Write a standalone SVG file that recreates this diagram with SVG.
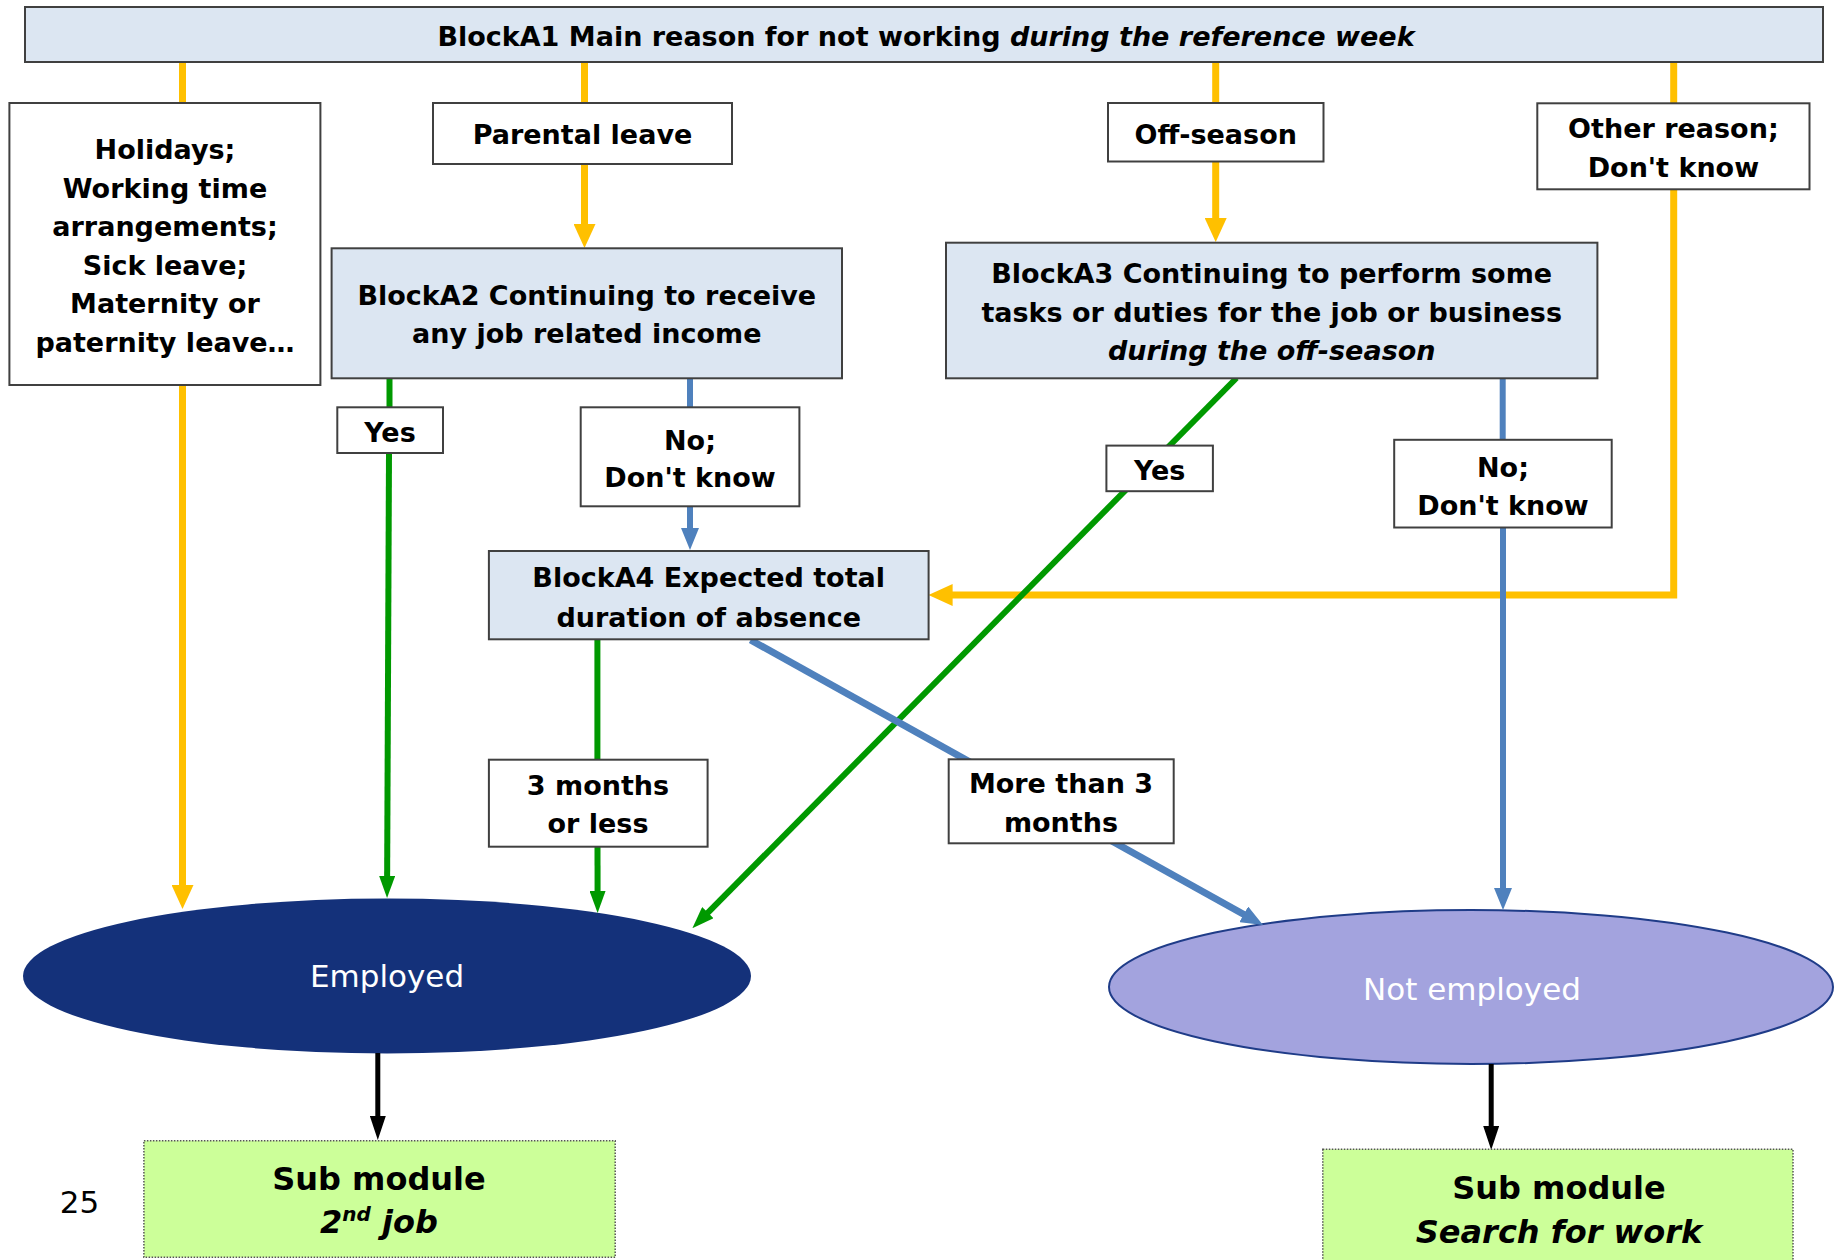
<svg xmlns="http://www.w3.org/2000/svg" width="1834" height="1260" viewBox="0 0 1834 1260">
<defs>
<style>
.box{fill:#ffffff;stroke:#404040;stroke-width:2}
.blk{fill:#dce6f2;stroke:#404040;stroke-width:2}
.sub{fill:#ccff99;stroke:#555555;stroke-width:1.5;stroke-dasharray:1.5 1.5}
.t{font-family:"DejaVu Sans",Verdana,sans-serif;font-weight:bold;font-size:27px;fill:#000000;text-anchor:middle}
.s{font-family:"DejaVu Sans",Verdana,sans-serif;font-weight:bold;font-size:32px;fill:#000000;text-anchor:middle}
.e{font-family:"DejaVu Sans",Verdana,sans-serif;font-size:31px;fill:#ffffff;text-anchor:middle}
.y{fill:none;stroke:#ffc000;stroke-width:7}
.g{fill:none;stroke:#009900;stroke-width:6}
.b{fill:none;stroke:#4f81bd;stroke-width:6}
.b2{fill:none;stroke:#4f81bd;stroke-width:7}
.k{fill:none;stroke:#000000;stroke-width:5}
</style>
<marker id="ay" markerUnits="userSpaceOnUse" markerWidth="24" markerHeight="22" refX="10" refY="11" orient="auto"><path d="M0,0 L24,11 L0,22 z" fill="#ffc000"/></marker>
<marker id="ag" markerUnits="userSpaceOnUse" markerWidth="22" markerHeight="16" refX="10" refY="8" orient="auto"><path d="M0,0 L22,8 L0,16 z" fill="#009900"/></marker>
<marker id="ab" markerUnits="userSpaceOnUse" markerWidth="22" markerHeight="18" refX="10" refY="9" orient="auto"><path d="M0,0 L22,9 L0,18 z" fill="#4f81bd"/></marker>
<marker id="ak" markerUnits="userSpaceOnUse" markerWidth="24" markerHeight="16" refX="10" refY="8" orient="auto"><path d="M0,0 L24,8 L0,16 z" fill="#000000"/></marker>
</defs>
<rect width="1834" height="1260" fill="#ffffff"/>

<g id="employed">
<ellipse cx="387" cy="976" rx="364" ry="77.5" fill="#14317a"/>
<text class="e" x="387" y="987">Employed</text>
</g>
<g id="not-employed">
<ellipse cx="1471" cy="987" rx="362" ry="77" fill="#a3a3de" stroke="#1f3c88" stroke-width="2"/>
<text class="e" x="1472" y="1000">Not employed</text>
</g>

<g id="connectors">
<line class="y" x1="182.5" y1="62" x2="182.5" y2="104"/>
<line class="y" x1="182.5" y1="385" x2="182.5" y2="895" marker-end="url(#ay)"/>
<line class="y" x1="584.5" y1="62" x2="584.5" y2="104"/>
<line class="y" x1="584.5" y1="164" x2="584.5" y2="234" marker-end="url(#ay)"/>
<line class="y" x1="1215.7" y1="62" x2="1215.7" y2="104"/>
<line class="y" x1="1215.7" y1="161" x2="1215.7" y2="228" marker-end="url(#ay)"/>
<line class="y" x1="1673.7" y1="62" x2="1673.7" y2="104"/>
<polyline class="y" points="1673.7,189 1673.7,595 942.6,595" marker-end="url(#ay)"/>

<line class="g" x1="389.5" y1="378" x2="389.5" y2="408"/>
<line class="g" x1="389" y1="453" x2="387.1" y2="886" marker-end="url(#ag)"/>
<line class="g" x1="597.4" y1="639" x2="597.4" y2="760"/>
<line class="g" x1="597.5" y1="847" x2="597.6" y2="901" marker-end="url(#ag)"/>
<line class="g" x1="1236.5" y1="378" x2="700.8" y2="919.8" marker-end="url(#ag)"/>

<line class="b" x1="690" y1="378" x2="690" y2="408"/>
<line class="b" x1="690" y1="506" x2="690" y2="538" marker-end="url(#ab)"/>
<line class="b2" x1="750.6" y1="640" x2="1252.5" y2="919.2" marker-end="url(#ab)"/>
<line class="b" x1="1502.7" y1="371" x2="1502.7" y2="441"/>
<line class="b" x1="1503" y1="527" x2="1503" y2="898" marker-end="url(#ab)"/>

<line class="k" x1="377.8" y1="1053" x2="377.8" y2="1126" marker-end="url(#ak)"/>
<line class="k" x1="1491.2" y1="1064" x2="1491.2" y2="1136" marker-end="url(#ak)"/>
</g>

<g id="blockA1">
<rect class="blk" x="25" y="7" width="1798" height="55"/>
<text class="t" x="926" y="46">BlockA1 Main reason for not working <tspan font-style="italic">during the reference week</tspan></text>
</g>
<g id="holidays">
<rect class="box" x="9.4" y="103" width="311" height="282"/>
<text class="t" x="165" y="159">Holidays;</text>
<text class="t" x="165" y="198">Working time</text>
<text class="t" x="165" y="236">arrangements;</text>
<text class="t" x="165" y="275">Sick leave;</text>
<text class="t" x="165" y="313">Maternity or</text>
<text class="t" x="165" y="352">paternity leave…</text>
</g>
<g id="parental">
<rect class="box" x="433" y="103" width="299" height="61"/>
<text class="t" x="582.5" y="144">Parental leave</text>
</g>
<g id="offseason">
<rect class="box" x="1108" y="103" width="215.5" height="58.5"/>
<text class="t" x="1215.7" y="144">Off-season</text>
</g>
<g id="other">
<rect class="box" x="1537.3" y="103.3" width="272.2" height="86"/>
<text class="t" x="1673.4" y="138">Other reason;</text>
<text class="t" x="1673.4" y="177">Don't know</text>
</g>
<g id="blockA2">
<rect class="blk" x="331.6" y="248.3" width="510.4" height="130"/>
<text class="t" x="586.8" y="305">BlockA2 Continuing to receive</text>
<text class="t" x="586.8" y="343">any job related income</text>
</g>
<g id="blockA3">
<rect class="blk" x="946" y="242.7" width="651.4" height="135.6"/>
<text class="t" x="1271.7" y="283">BlockA3 Continuing to perform some</text>
<text class="t" x="1271.7" y="322">tasks or duties for the job or business</text>
<text class="t" x="1271.7" y="360" font-style="italic">during the off-season</text>
</g>
<g id="yes-left">
<rect class="box" x="337.3" y="407.3" width="105.7" height="45.7"/>
<text class="t" x="390" y="441.5">Yes</text>
</g>
<g id="no-left">
<rect class="box" x="580.7" y="407.3" width="218.7" height="99"/>
<text class="t" x="690" y="450">No;</text>
<text class="t" x="690" y="487.3">Don't know</text>
</g>
<g id="yes-right">
<rect class="box" x="1106.4" y="445.6" width="106.5" height="45.6"/>
<text class="t" x="1159.7" y="480">Yes</text>
</g>
<g id="no-right">
<rect class="box" x="1394.2" y="439.8" width="217.5" height="87.7"/>
<text class="t" x="1503" y="477.2">No;</text>
<text class="t" x="1503" y="514.6">Don't know</text>
</g>
<g id="blockA4">
<rect class="blk" x="488.9" y="551" width="439.7" height="88.3"/>
<text class="t" x="708.7" y="587.3">BlockA4 Expected total</text>
<text class="t" x="708.7" y="626.7">duration of absence</text>
</g>
<g id="three-months">
<rect class="box" x="488.9" y="759.7" width="218.7" height="87"/>
<text class="t" x="598" y="795">3 months</text>
<text class="t" x="598" y="833.3">or less</text>
</g>
<g id="more-than">
<rect class="box" x="948.7" y="759.3" width="225" height="84"/>
<text class="t" x="1061" y="793.3">More than 3</text>
<text class="t" x="1061" y="831.7">months</text>
</g>
<g id="sub-2nd-job">
<rect class="sub" x="143.9" y="1140.7" width="471.3" height="116.6"/>
<text class="s" x="379" y="1190">Sub module</text>
<text class="s" x="379" y="1233" font-style="italic">2<tspan font-size="20" dy="-12">nd</tspan><tspan dy="12"> job</tspan></text>
</g>
<g id="sub-search">
<rect class="sub" x="1322.8" y="1149.3" width="470.2" height="120"/>
<text class="s" x="1559" y="1199">Sub module</text>
<text class="s" x="1559" y="1243" font-style="italic">Search for work</text>
</g>
<text x="79.5" y="1213" font-family="DejaVu Sans, sans-serif" font-size="31" text-anchor="middle" fill="#000000">25</text>
</svg>
